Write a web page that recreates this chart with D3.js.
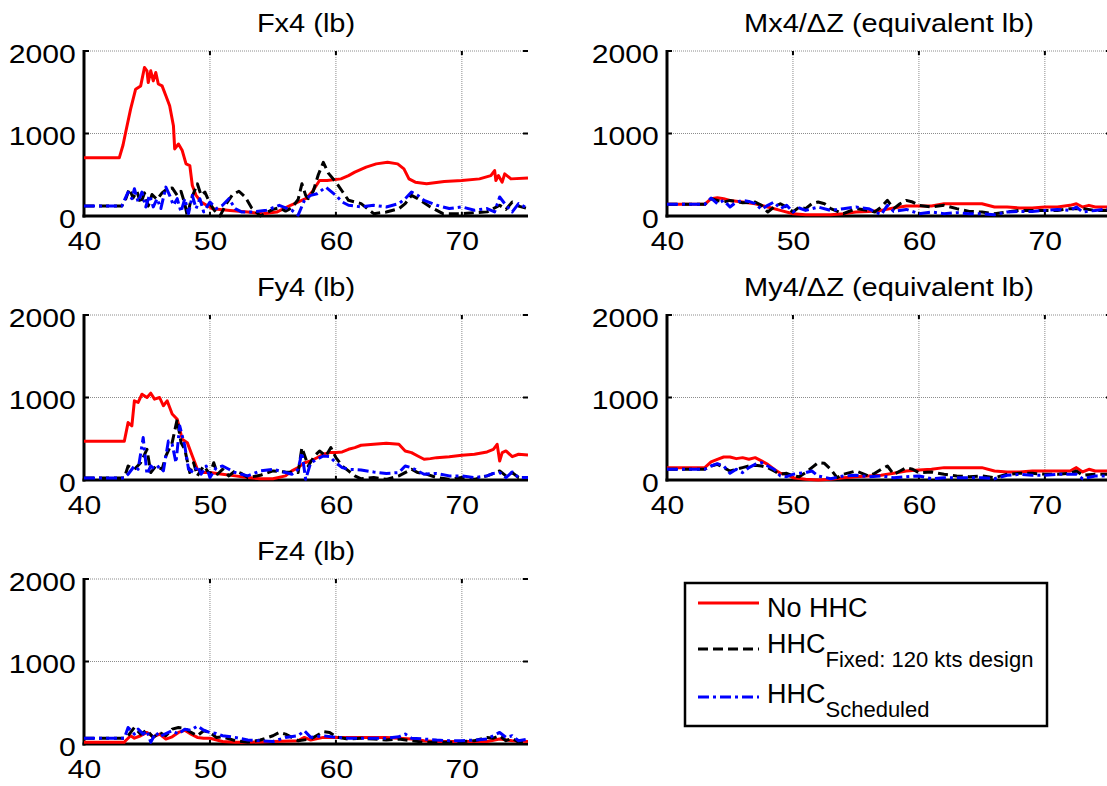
<!DOCTYPE html>
<html>
<head>
<meta charset="utf-8">
<script src="https://cdn.jsdelivr.net/npm/d3@7"></script>
<style>
  html, body { margin: 0; padding: 0; background: #fff; }
  svg { display: block; font-family: Arial, "Liberation Sans", sans-serif; }
</style>
</head>
<body>
<svg id="chart" width="1107" height="786"></svg>
<script>
// Rotor hub loads versus airspeed (kts) for three controller settings.
// Each series is a list of [airspeed, load] pairs.

const xTicks = [40, 50, 60, 70];
const yTicks = [0, 1000, 2000];
const seriesNames = ["No HHC", "HHC", "HHC"];
const seriesSubs = ["", "Fixed: 120 kts design", "Scheduled"];
const panelTitles = ["Fx4 (lb)", "Mx4/\u0394Z (equivalent lb)", "Fy4 (lb)", "My4/\u0394Z (equivalent lb)", "Fz4 (lb)"];

const fx4NoHHC = [[40,705],[42.8,705],[43.1,860],[43.3,1010],[43.7,1295],[44.1,1537],[44.5,1577],[44.8,1800],[45.0,1760],[45.1,1617],[45.3,1760],[45.5,1638],[45.7,1740],[45.9,1600],[46.2,1577],[46.5,1457],[46.8,1336],[47.1,1095],[47.2,813],[47.5,873],[47.8,793],[48.1,632],[48.4,612],[48.6,370],[48.9,250],[49.3,170],[50.2,88],[51.6,68],[53.0,48],[54.2,28],[55.3,48],[56.4,130],[57.6,210],[58.1,290],[58.7,430],[59.3,430],[60.4,450],[61.0,490],[61.5,531],[62.4,592],[63.2,632],[64.1,652],[64.9,632],[65.4,571],[65.8,450],[66.3,410],[67.2,390],[68.6,418],[70.0,430],[71.4,450],[72.3,490],[72.6,551],[72.7,430],[72.9,490],[73.2,410],[73.4,511],[73.9,450],[75.25,462]];
const fx4Fixed = [[40,120],[43,120],[43.3,200],[43.6,330],[43.9,220],[44.2,300],[44.5,150],[44.8,280],[45.1,120],[45.4,260],[45.8,200],[46.2,280],[46.6,330],[47.0,340],[47.4,250],[47.7,300],[48.0,150],[48.2,0],[48.5,200],[49.0,390],[49.3,250],[49.6,290],[50.0,150],[50.4,60],[50.8,0],[51.3,150],[51.8,260],[52.3,300],[52.8,230],[53.3,100],[54.0,0],[54.5,40],[55.0,80],[55.5,100],[56.0,60],[56.5,100],[57.0,200],[57.3,390],[57.6,250],[57.8,210],[58.2,300],[58.6,500],[59.0,650],[59.4,520],[60.0,410],[60.5,300],[61.0,190],[62.0,150],[63.0,28],[64.0,48],[65.0,88],[65.5,150],[66.0,250],[66.5,210],[67.5,110],[68.5,28],[70.0,28],[71.0,40],[72.0,50],[72.5,90],[73.0,130],[73.5,80],[74.0,170],[74.5,120],[75.25,88]];
const fx4Sched = [[40,120],[43,120],[43.5,290],[43.8,210],[44.0,330],[44.3,170],[44.6,290],[44.9,110],[45.2,250],[45.5,110],[45.8,210],[46.1,90],[46.5,350],[46.8,250],[47.1,130],[47.4,210],[47.7,50],[48.0,210],[48.3,30],[48.6,250],[48.9,90],[49.2,210],[49.5,50],[50.0,170],[50.5,90],[51.0,130],[51.5,210],[52.0,90],[52.5,50],[53.5,50],[54.5,70],[55.5,130],[56.5,70],[57.0,10],[57.5,190],[58.0,250],[58.5,270],[59.2,350],[60.0,250],[60.5,170],[61.0,130],[62.0,110],[63.0,130],[64.0,110],[65.0,150],[65.5,210],[66.0,290],[66.5,250],[67.0,190],[68.0,130],[69.0,90],[70.0,110],[71.0,70],[72.0,90],[72.6,50],[73.0,230],[73.5,130],[74.0,50],[74.5,150],[75.25,90]];

const fy4NoHHC = [[40,470],[43.2,470],[43.5,696],[43.8,656],[44.0,960],[44.3,940],[44.6,1040],[45.0,1000],[45.3,1052],[45.6,980],[46.0,1000],[46.3,900],[46.6,960],[47.0,800],[47.4,737],[47.8,494],[48.2,453],[48.6,291],[49.0,130],[49.5,90],[50.0,90],[51.0,70],[52.0,50],[53.0,30],[54.0,15],[55.0,15],[56.0,50],[56.5,110],[57.0,150],[57.5,210],[58.0,230],[58.5,270],[59.0,312],[59.5,332],[60.0,332],[60.5,340],[61.0,372],[61.5,393],[62.0,421],[63.0,433],[64.0,445],[65.0,433],[65.5,352],[66.0,332],[66.5,291],[67.0,251],[67.5,259],[68.0,271],[69.0,283],[70.0,300],[71.0,312],[72.0,340],[72.5,372],[72.8,433],[73.0,230],[73.2,332],[73.5,352],[74.0,283],[74.5,312],[75.25,304]];
const fy4Fixed = [[40,25],[43.2,25],[43.5,170],[44.0,130],[44.5,210],[45.0,372],[45.3,90],[45.7,170],[46.2,130],[46.5,291],[47.0,453],[47.4,737],[47.7,453],[48.0,372],[48.4,90],[48.7,210],[49.0,50],[49.5,170],[50.0,70],[50.3,210],[50.6,70],[51.0,130],[51.5,50],[52.0,110],[52.5,80],[53.0,30],[54.0,57],[55.0,110],[56.0,97],[57.0,90],[57.3,393],[57.8,170],[58.3,291],[58.7,352],[59.2,291],[59.6,393],[60.0,271],[60.5,170],[61.0,110],[61.5,50],[62.0,15],[63.0,30],[64.0,8],[65.0,50],[66.0,130],[66.5,90],[67.0,80],[68.0,30],[69.0,8],[70.0,30],[71.0,8],[72.0,50],[73.0,110],[73.5,50],[74.0,90],[74.5,30],[75.25,15]];
const fy4Sched = [[40,25],[43.2,25],[43.5,70],[44.0,170],[44.3,130],[44.7,514],[45.0,70],[45.3,170],[45.6,130],[46.0,170],[46.3,110],[46.7,473],[47.0,433],[47.3,210],[47.6,656],[48.0,413],[48.3,130],[48.7,90],[49.0,170],[49.3,70],[49.7,170],[50.0,30],[50.5,150],[51.0,170],[51.5,130],[52.0,90],[52.5,70],[53.0,50],[54.0,110],[55.0,130],[56.0,90],[56.5,70],[57.0,130],[57.3,332],[57.6,8],[58.0,210],[58.5,251],[59.0,291],[59.5,283],[60.0,210],[60.5,150],[61.0,130],[62.0,121],[63.0,97],[64.0,80],[65.0,90],[65.5,170],[66.0,150],[66.5,110],[67.0,70],[68.0,80],[69.0,50],[70.0,50],[71.0,30],[72.0,50],[72.5,80],[73.0,90],[73.5,30],[74.0,97],[74.5,30],[75.25,30]];

const fz4NoHHC = [[40,20],[43.2,20],[43.3,40],[43.7,100],[44.0,70],[44.5,100],[45.0,140],[45.5,87],[46.0,120],[46.5,60],[47.0,87],[47.5,140],[48.0,167],[48.5,120],[49.0,80],[49.5,70],[50.0,70],[51.0,30],[52.0,20],[53.0,20],[55.0,30],[57.0,40],[57.5,80],[58.0,48],[59.0,80],[60.0,80],[62.0,80],[64.0,80],[66.0,60],[67.0,40],[68.0,30],[70.0,30],[72.0,30],[73.0,60],[74.0,40],[75.25,30]];
const fz4Fixed = [[40,70],[43.2,70],[43.5,100],[44.0,200],[44.5,120],[45.0,167],[45.5,80],[46.0,140],[46.5,100],[47.0,180],[47.5,200],[48.0,190],[48.5,140],[49.0,100],[49.5,160],[50.0,140],[50.5,80],[51.0,87],[52.0,40],[53.0,20],[54.0,48],[55.0,100],[55.5,140],[56.0,120],[56.5,80],[57.0,40],[58.0,60],[59.0,150],[59.5,140],[60.0,87],[61.0,60],[62.0,70],[63.0,60],[64.0,48],[65.0,60],[66.0,40],[67.0,20],[68.0,20],[69.0,20],[70.0,30],[71.0,40],[72.0,80],[72.5,70],[73.0,100],[73.5,40],[74.0,70],[74.5,20],[75.25,20]];
const fz4Sched = [[40,70],[43.2,70],[43.5,200],[44.0,120],[44.3,180],[44.7,120],[45.0,160],[45.3,20],[45.7,140],[46.0,87],[46.5,127],[47.0,160],[47.5,120],[48.0,180],[48.5,167],[49.0,218],[49.5,167],[50.0,140],[50.5,127],[51.0,100],[52.0,80],[53.0,48],[54.0,40],[55.0,30],[56.0,80],[57.0,100],[57.5,160],[58.0,80],[59.0,100],[60.0,80],[61.0,70],[62.0,70],[63.0,70],[64.0,70],[65.0,87],[65.5,120],[66.0,70],[67.0,60],[68.0,48],[69.0,40],[70.0,40],[71.0,48],[72.0,60],[72.5,100],[73.0,140],[73.5,80],[74.0,100],[74.5,40],[75.25,60]];

const mx4NoHHC = [[40,141],[43,141],[43.5,210],[44,221],[44.5,210],[45,189],[46,169],[47,149],[48,109],[49,68],[50,28],[51,16],[52,16],[53,16],[54,28],[55,48],[56,56],[57,68],[58,97],[59,121],[60,121],[61,121],[62,149],[63,149],[64,149],[65,149],[66,109],[67,109],[68,97],[69,97],[70,109],[71,109],[72,129],[72.5,149],[73,109],[73.5,129],[74,109],[75.25,109]];
const mx4Fixed = [[40,141],[43,141],[43.5,210],[44,189],[44.5,169],[45,189],[46,161],[47,169],[47.5,129],[48,48],[48.5,109],[49,149],[49.5,109],[50,48],[50.5,109],[51,89],[51.5,149],[52,169],[52.5,149],[53,89],[54,28],[55,89],[56,68],[56.5,48],[57,109],[57.5,189],[58,89],[58.5,149],[59,189],[59.5,169],[60,129],[61,109],[62,129],[63,89],[64,56],[65,48],[66,28],[67,48],[68,68],[69,68],[70,68],[71,68],[72,89],[73,89],[74,68],[75.25,68]];
const mx4Sched = [[40,141],[43,141],[43.5,217],[44,149],[44.5,189],[45,109],[45.5,169],[46,189],[46.5,177],[47,149],[47.5,80],[48,129],[48.5,169],[49,89],[49.5,129],[50,48],[50.5,97],[51,68],[52,109],[53,68],[54,89],[55,109],[56,89],[57,16],[57.5,129],[58,56],[59,80],[60,28],[61,48],[62,28],[63,40],[64,28],[65,28],[66,16],[67,48],[68,56],[69,56],[70,68],[71,80],[72,68],[72.5,109],[73,48],[74,68],[75.25,89]];

const my4NoHHC = [[40,150],[43,150],[43.5,219],[44,251],[44.5,279],[45,279],[45.5,259],[46,271],[46.5,251],[47,271],[47.5,231],[48,190],[48.5,130],[49,81],[49.5,69],[50,28],[51,8],[52,0],[53,8],[54,28],[55,40],[56,49],[57,57],[58,81],[59,109],[60,121],[61,130],[62,150],[63,150],[64,150],[65,150],[66,109],[67,97],[68,97],[69,109],[70,109],[71,109],[72,109],[72.5,150],[73,97],[73.5,130],[74,109],[75.25,109]];
const my4Fixed = [[40,130],[43,130],[43.5,170],[44,190],[44.5,150],[45,109],[45.5,130],[46,150],[46.5,170],[47,178],[47.5,170],[48,150],[48.5,109],[49,69],[49.5,81],[50,49],[50.5,40],[51,89],[51.5,150],[52,210],[52.5,202],[53,130],[53.5,28],[54,69],[55,109],[56,49],[56.5,81],[57,130],[57.5,170],[58,69],[58.5,109],[59,150],[59.5,130],[60,89],[61,97],[62,69],[63,49],[64,40],[65,49],[66,28],[67,69],[68,81],[69,81],[70,69],[71,69],[72,81],[72.5,109],[73,57],[74,69],[75.25,69]];
const my4Sched = [[40,130],[43,130],[43.5,170],[44,198],[44.5,170],[45,81],[45.5,130],[46,89],[46.5,150],[47,190],[47.5,210],[48,170],[48.5,130],[49,49],[49.5,40],[50,69],[50.5,81],[51,89],[51.5,109],[52,49],[53,16],[54,49],[55,57],[56,40],[57,49],[58,28],[59,40],[60,49],[61,16],[62,28],[63,28],[64,28],[65,28],[66,16],[67,57],[68,69],[69,57],[70,57],[71,69],[72,69],[72.5,69],[73,16],[74,49],[75.25,49]];

// ---- layout & styles ----
const W = 1107, H = 786;
const plotW = 444, plotH = 165;
const colLeft = [84, 667];
const rowTop = [51, 315, 579];
const xDomain = [40, 75.25];
const yDomain = [0, 2000];
const styles = [
  { color: "#ff0000", dash: null },
  { color: "#000000", dash: "10,5" },
  { color: "#0000ff", dash: "11,4,3,4" }
];
const lineW = 3;
const tickFont = 26, titleFont = 25;
const textStretch = 1.16;   // axis text is drawn slightly wide

const panels = [
  { title: panelTitles[0], left: colLeft[0], top: rowTop[0], data: [fx4NoHHC, fx4Fixed, fx4Sched] },
  { title: panelTitles[1], left: colLeft[1], top: rowTop[0], data: [mx4NoHHC, mx4Fixed, mx4Sched] },
  { title: panelTitles[2], left: colLeft[0], top: rowTop[1], data: [fy4NoHHC, fy4Fixed, fy4Sched] },
  { title: panelTitles[3], left: colLeft[1], top: rowTop[1], data: [my4NoHHC, my4Fixed, my4Sched] },
  { title: panelTitles[4], left: colLeft[0], top: rowTop[2], data: [fz4NoHHC, fz4Fixed, fz4Sched] }
];

const svg = d3.select("#chart");
svg.append("rect").attr("width", W).attr("height", H).attr("fill", "#fff");

const x = d3.scaleLinear().domain(xDomain).range([0, plotW]);
const y = d3.scaleLinear().domain(yDomain).range([plotH, 0]);
const line = d3.line().x(d => x(d[0])).y(d => y(d[1]));

panels.forEach((p, i) => {
  const g = svg.append("g").attr("transform", `translate(${p.left},${p.top})`);

  const clipId = "clip" + i;
  g.append("clipPath").attr("id", clipId)
    .append("rect").attr("x", 0).attr("y", -3).attr("width", plotW).attr("height", plotH + 6);

  // grid
  const grid = g.append("g").attr("stroke", "#8c8c8c").attr("stroke-width", 1).attr("stroke-dasharray", "1,1");
  grid.selectAll("line.vx").data(xTicks.filter(t => t > xDomain[0])).join("line")
    .attr("x1", d => x(d)).attr("x2", d => x(d)).attr("y1", 0).attr("y2", plotH);
  grid.selectAll("line.hy").data(yTicks.filter(t => t > yDomain[0])).join("line")
    .attr("x1", 0).attr("x2", plotW).attr("y1", d => y(d)).attr("y2", d => y(d));

  // inward ticks
  const tk = g.append("g").attr("stroke", "#000").attr("stroke-width", 2);
  xTicks.filter(t => t > xDomain[0]).forEach(t => {
    tk.append("line").attr("x1", x(t)).attr("x2", x(t)).attr("y1", 0).attr("y2", 4);
    tk.append("line").attr("x1", x(t)).attr("x2", x(t)).attr("y1", plotH).attr("y2", plotH - 4);
  });
  yTicks.filter(t => t > yDomain[0]).forEach(t => {
    tk.append("line").attr("x1", 0).attr("x2", 5).attr("y1", y(t)).attr("y2", y(t));
    tk.append("line").attr("x1", plotW).attr("x2", plotW - 5).attr("y1", y(t)).attr("y2", y(t));
  });

  // axes: thick left & bottom lines
  g.append("line").attr("x1", 0).attr("x2", 0).attr("y1", -1).attr("y2", plotH + 1.5)
    .attr("stroke", "#000").attr("stroke-width", 3);
  g.append("line").attr("x1", -1.5).attr("x2", plotW).attr("y1", plotH).attr("y2", plotH)
    .attr("stroke", "#000").attr("stroke-width", 3);

  const yAxis = g.append("g")
    .call(d3.axisLeft(y).tickValues(yTicks).tickSize(0).tickPadding(7).tickFormat(d3.format("d")));
  yAxis.select(".domain").remove();
  yAxis.selectAll("text")
    .attr("font-size", tickFont).attr("font-family", "Arial, 'Liberation Sans', sans-serif").attr("fill", "#000")
    .attr("dy", "0.44em")
    .attr("transform", `scale(${textStretch},1)`);

  const xAxis = g.append("g").attr("transform", `translate(0,${plotH})`)
    .call(d3.axisBottom(x).tickValues(xTicks).tickSize(0).tickPadding(16).tickFormat(d3.format("d")));
  xAxis.select(".domain").remove();
  xAxis.selectAll("text")
    .attr("font-size", tickFont).attr("font-family", "Arial, 'Liberation Sans', sans-serif").attr("fill", "#000")
    .attr("transform", `scale(${textStretch},1)`);

  // title
  g.append("g").attr("transform", `translate(${plotW / 2},-19.5)`)
    .append("text").attr("text-anchor", "middle")
    .attr("transform", `scale(${textStretch},1)`)
    .attr("font-size", titleFont).attr("fill", "#000").text(p.title);

  // data
  const lines = g.append("g").attr("clip-path", `url(#${clipId})`);
  p.data.forEach((s, k) => {
    lines.append("path").datum(s)
      .attr("d", line)
      .attr("fill", "none")
      .attr("stroke", styles[k].color)
      .attr("stroke-width", lineW)
      .attr("stroke-linejoin", "round")
      .attr("stroke-dasharray", styles[k].dash);
  });
});

// legend
const lg = svg.append("g").attr("transform", "translate(685,583)");
lg.append("rect").attr("width", 362).attr("height", 143)
  .attr("fill", "#fff").attr("stroke", "#000").attr("stroke-width", 2.5);
const rowLineY = [20, 66, 114];
const rowBase = [34, 70, 120];
seriesNames.forEach((name, k) => {
  lg.append("line").attr("x1", 13).attr("x2", 74).attr("y1", rowLineY[k]).attr("y2", rowLineY[k])
    .attr("stroke", styles[k].color).attr("stroke-width", lineW)
    .attr("stroke-dasharray", styles[k].dash);
  const t = lg.append("text").attr("x", 82).attr("y", rowBase[k]).attr("font-size", 27).attr("fill", "#000");
  t.append("tspan").text(name);
  if (seriesSubs[k]) {
    t.append("tspan").attr("dy", 14).attr("font-size", 22).text(seriesSubs[k]);
  }
});
</script>
</body>
</html>
